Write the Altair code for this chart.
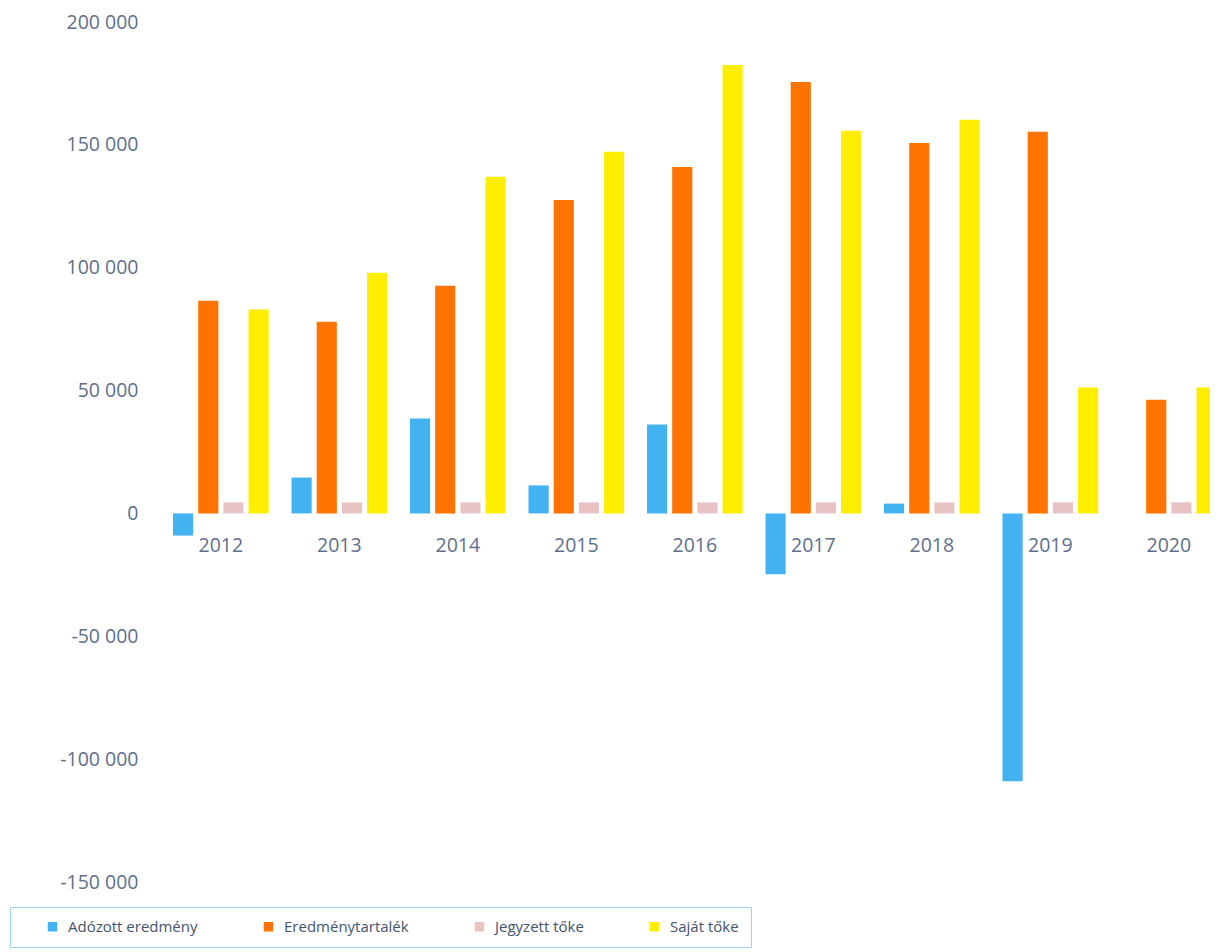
import altair as alt
import pandas as pd

years = ["2012", "2013", "2014", "2015", "2016", "2017", "2018", "2019", "2020"]
series = ["Adózott eredmény", "Eredménytartalék", "Jegyzett tőke", "Saját tőke"]
adozott = [-9000, 14600, 38600, 11400, 36200, -24800, 4000, -109000, 0]
eredmenytartalek = [86600, 78000, 92700, 127600, 141000, 175600, 150800, 155300, 46300]
jegyzett = [4500, 4500, 4500, 4500, 4500, 4500, 4500, 4500, 4500]
sajat = [83000, 98000, 137000, 147200, 182500, 155700, 160200, 51200, 51200]
colors = ["#42b2f0", "#ff7400", "#e9c3c3", "#ffee00"]

rows = []
for s, vals in zip(series, [adozott, eredmenytartalek, jegyzett, sajat]):
    for y, v in zip(years, vals):
        rows.append({"year": y, "series": s, "value": v})
df = pd.DataFrame(rows)
labels_df = pd.DataFrame({"year": years, "zero": [0] * len(years)})

text_color = "#5f6f8a"
FONT = "Open Sans"

xscale = alt.Scale(domain=years, range=[20.5, 1069.2], paddingInner=0.15, paddingOuter=0)
yscale = alt.Scale(domain=[-150000, 200000], nice=False, zero=False)

bars = alt.Chart(df).mark_bar(clip=True).encode(
    x=alt.X("year:N", scale=xscale, axis=None, sort=years),
    xOffset=alt.XOffset("series:N", sort=series,
                        scale=alt.Scale(domain=series, paddingInner=0.2, paddingOuter=0.1)),
    y=alt.Y("value:Q", scale=yscale, title=None,
            axis=alt.Axis(values=[-150000, -100000, -50000, 0, 50000, 100000, 150000, 200000],
                          labelExpr="(datum.value < 0 ? '-' : '') + replace(format(abs(datum.value), ','), ',', ' ')",
                          grid=False, domain=False, ticks=False, labelPadding=12, minExtent=142,
                          labelFontSize=19.5, labelColor=text_color, labelFont=FONT)),
    color=alt.Color("series:N", sort=series,
                    scale=alt.Scale(domain=series, range=colors),
                    legend=alt.Legend(title=None, orient="none", legendX=-140, legendY=885,
                                      direction="horizontal",
                                      symbolType="square", symbolSize=90,
                                      symbolOffset=23, labelOffset=8, columnPadding=40,
                                      labelFontSize=15, labelFont=FONT, labelColor="#44546f",
                                      padding=12, strokeColor="#9fd3ee", fillColor="white",
                                      symbolStrokeWidth=0)),
)

year_text = alt.Chart(labels_df).mark_text(
    dy=33, baseline="middle", align="center", fontSize=19.5, font=FONT, color=text_color, clip=True
).encode(
    x=alt.X("year:N", scale=xscale, sort=years),
    y=alt.Y("zero:Q", scale=yscale),
    text="year:N",
)

chart = alt.layer(bars, year_text).properties(
    width=1060, height=860, padding={"top": 4, "left": 0, "right": 0, "bottom": 0}
).configure_view(stroke=None)

chart.save("out.html", embed_options={"renderer": "svg", "actions": False})
